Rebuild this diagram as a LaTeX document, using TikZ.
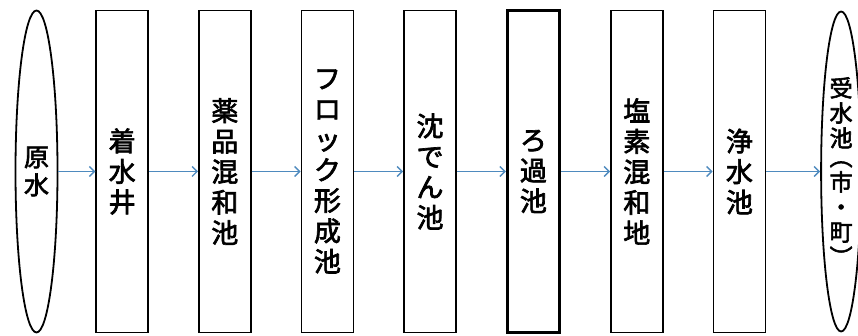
\documentclass[tikz,border=0pt]{standalone}
\usepackage{fontspec}
\newfontfamily\jpfont[FakeBold=2.5]{Noto Sans CJK JP}
\usetikzlibrary{positioning,shapes.geometric,arrows.meta}
\definecolor{flowblue}{RGB}{78,138,190}

\begin{document}
\begin{tikzpicture}[
        x=1pt, y=1pt,
        node distance=49pt,
        tank/.style={draw, line width=1.6pt, minimum width=52pt, minimum height=322pt,
            inner sep=0pt, align=center, font=\jpfont\fontsize{27}{30.5}\selectfont},
        filter/.style={tank, line width=3.2pt},
        water/.style={tank, ellipse, line width=1.8pt, minimum width=42pt},
        flow/.style={flowblue, line width=1.4pt, -{Straight Barb[length=5pt,width=10pt]}}
    ]
    \useasboundingbox (0,0) rectangle (858,336);
    \node [water, font=\jpfont\fontsize{25}{28}\selectfont] (gensui) at (36.5,164.5) {原\\水};
    \node [tank, right=37pt of gensui] (chakusui) {着\\水\\井};
    \node [tank, right=of chakusui] (yakuhin) {薬\\品\\混\\和\\池};
    \node [tank, right=of yakuhin] (floc) {フ\\ロ\\ッ\\ク\\形\\成\\池};
    \node [tank, right=of floc] (chinden) {沈\\で\\ん\\池};
    \node [filter, right=of chinden] (roka) {ろ\\過\\池};
    \node [tank, right=of roka] (enso) {塩\\素\\混\\和\\地};
    \node [tank, right=of enso] (josui) {浄\\水\\池};
    \node [water, minimum width=40pt, minimum height=320pt, right=54pt of josui,
        font=\jpfont\fontsize{23}{25}\selectfont] (jusui)
        {受\\水\\池\\[-6pt]︵\\市\\・\\町\\︶};
    \draw [flow] (gensui) -- (chakusui);
    \draw [flow] (chakusui) -- (yakuhin);
    \draw [flow] (yakuhin) -- (floc);
    \draw [flow] (floc) -- (chinden);
    \draw [flow] (chinden) -- (roka);
    \draw [flow] (roka) -- (enso);
    \draw [flow] (enso) -- (josui);
    \draw [flow] (josui) -- (jusui);
\end{tikzpicture}
\end{document}
